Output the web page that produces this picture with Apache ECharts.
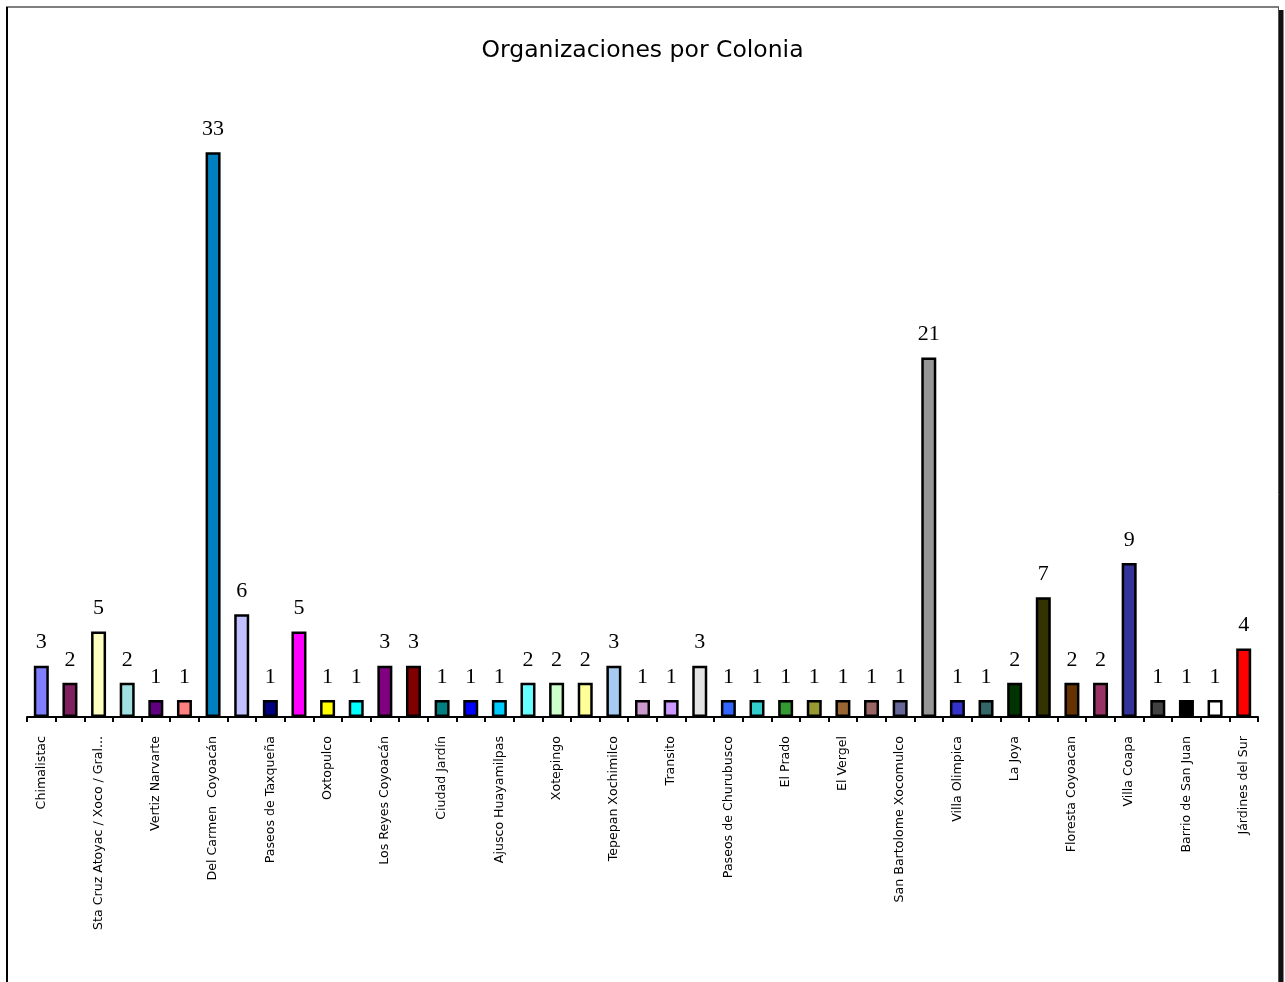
<!DOCTYPE html>
<html>
<head>
<meta charset="utf-8">
<script src="https://cdn.jsdelivr.net/npm/echarts@6/dist/echarts.min.js"></script>
<style>
  html, body { margin: 0; padding: 0; background: #ffffff; }
  #chart { width: 1285px; height: 982px; }
</style>
</head>
<body>
<div id="chart"></div>
<script>
// Colonias (every other name is printed on the axis)
const colonias = [
  'Chimalistac', '', 'Sta Cruz Atoyac / Xoco / Gral...', '', 'Vertiz Narvarte', '',
  'Del Carmen  Coyoacán', '', 'Paseos de Taxqueña', '', 'Oxtopulco', '',
  'Los Reyes Coyoacán', '', 'Ciudad Jardín', '', 'Ajusco Huayamilpas', '',
  'Xotepingo', '', 'Tepepan Xochimilco', '', 'Transito', '',
  'Paseos de Churubusco', '', 'El Prado', '', 'El Vergel', '',
  'San Bartolome Xocomulco', '', 'Villa Olimpica', '', 'La Joya', '',
  'Floresta Coyoacan', '', 'Villa Coapa', '', 'Barrio de San Juan', '',
  'Járdines del Sur'
];

// Number of organizations in each colonia
const organizaciones = [
  3, 2, 5, 2, 1, 1, 33, 6, 1, 5, 1, 1, 3, 3, 1, 1, 1, 2, 2, 2, 3, 1,
  1, 3, 1, 1, 1, 1, 1, 1, 1, 21, 1, 1, 2, 7, 2, 2, 9, 1, 1, 1, 4
];

// Fill colour of each bar
const colores = [
  '#8080FF', '#802060', '#FFFFC0', '#A0E0E0', '#600080', '#FF8080',
  '#0080C0', '#C0C0FF', '#000080', '#FF00FF', '#FFFF00', '#00FFFF',
  '#800080', '#800000', '#008080', '#0000FF', '#00CCFF', '#66FFFF',
  '#CCFFCC', '#FFFF99', '#A6CAF0', '#CC99CC', '#CC99FF', '#E3E3E3',
  '#3366FF', '#33CCCC', '#339933', '#999933', '#996633', '#996666',
  '#666699', '#969696', '#3333CC', '#336666', '#003300', '#333300',
  '#663300', '#993366', '#333399', '#424242', '#000000', '#FFFFFF',
  '#FF0000'
];

const chart = echarts.init(document.getElementById('chart'), null, { renderer: 'canvas' });

chart.setOption({
  backgroundColor: '#ffffff',
  animation: false,
  title: {
    text: 'Organizaciones por Colonia',
    left: 'center',
    top: 39,
    padding: 0,
    textStyle: {
      fontFamily: 'DejaVu Sans',
      fontSize: 23.5,
      fontWeight: 'normal',
      color: '#000000'
    }
  },
  grid: { left: 27, right: 27, top: 118, bottom: 265, containLabel: false },
  xAxis: {
    type: 'category',
    data: colonias,
    boundaryGap: true,
    axisLine: { show: true, lineStyle: { color: '#000000', width: 2 } },
    axisTick: { show: true, alignWithLabel: false, interval: 0, length: 5, lineStyle: { color: '#000000', width: 2 } },
    axisLabel: {
      interval: 0,
      rotate: 90,
      margin: 19,
      fontFamily: 'DejaVu Sans',
      fontSize: 12.6,
      color: '#000000'
    },
    splitLine: { show: false }
  },
  yAxis: {
    type: 'value',
    min: 0,
    max: 35,
    show: false,
    splitLine: { show: false }
  },
  series: [{
    type: 'bar',
    data: organizaciones.map((v, i) => ({
      value: v,
      itemStyle: { color: colores[i] }
    })),
    barWidth: 15,
    itemStyle: { borderColor: '#000000', borderWidth: 2.5 },
    label: {
      show: true,
      position: 'top',
      distance: 12,
      fontFamily: 'Liberation Serif',
      fontSize: 22,
      color: '#000000'
    },
    z: 1
  }],
  graphic: [
    // chart frame
    { type: 'line', shape: { x1: 6, y1: 7, x2: 1279, y2: 7 }, style: { stroke: '#555555', lineWidth: 1.5 }, silent: true },
    { type: 'line', shape: { x1: 7, y1: 7, x2: 7, y2: 982 }, style: { stroke: '#000000', lineWidth: 2 }, silent: true },
    { type: 'line', shape: { x1: 1278.5, y1: 7, x2: 1278.5, y2: 982 }, style: { stroke: '#555555', lineWidth: 1 }, silent: true },
    { type: 'rect', shape: { x: 1279, y: 10, width: 4.5, height: 972 }, style: { fill: '#111111' }, silent: true }
  ]
});
</script>
</body>
</html>
